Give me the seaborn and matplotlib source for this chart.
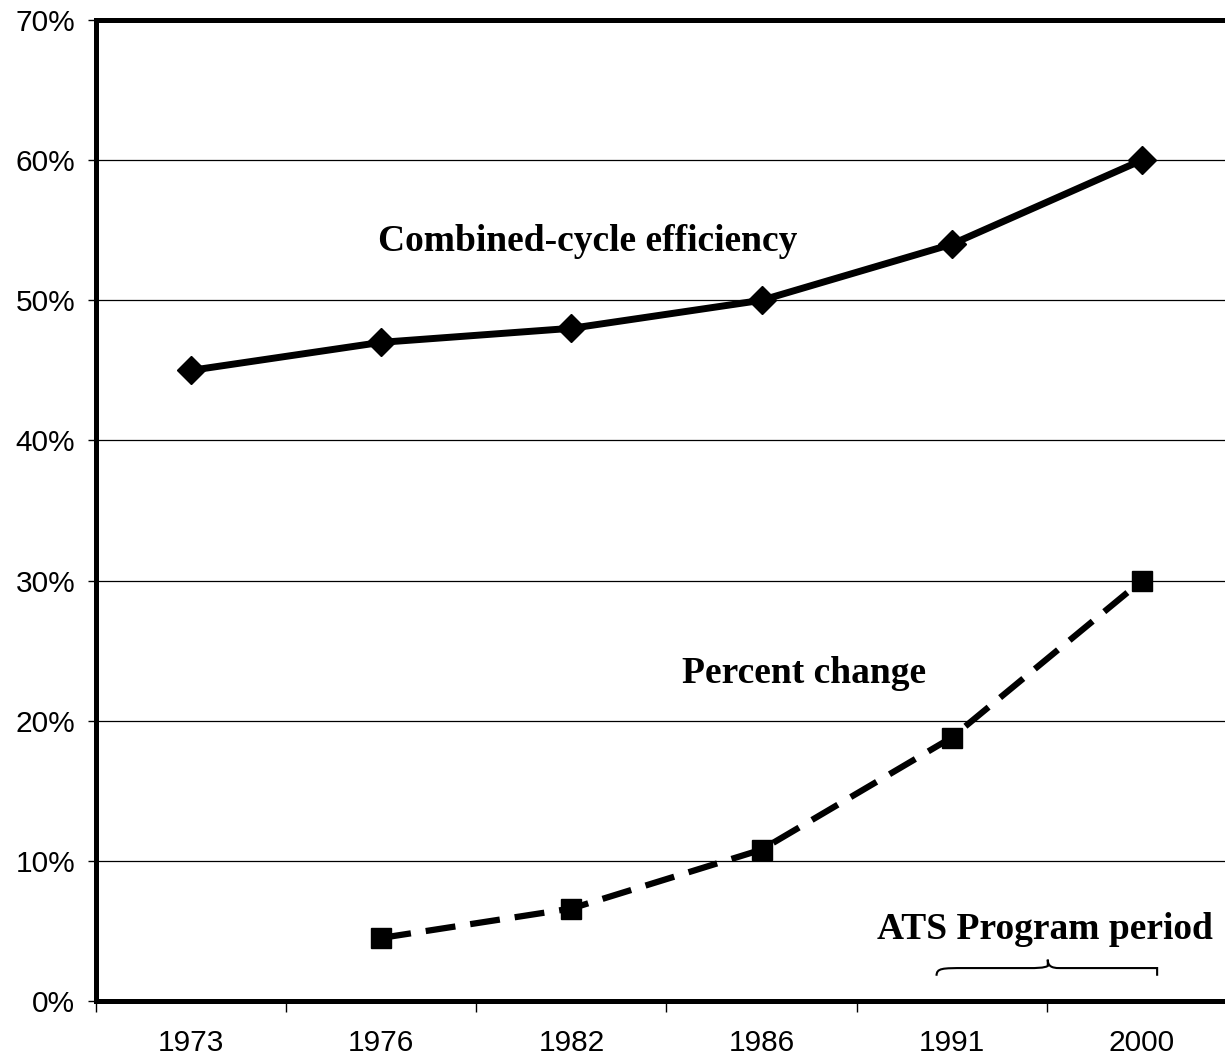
import matplotlib
matplotlib.use("Agg")
import matplotlib.pyplot as plt
from matplotlib.path import Path
from matplotlib.patches import PathPatch
import seaborn as sns
import pandas as pd

years = ["1973", "1976", "1982", "1986", "1991", "2000"]
efficiency = [45, 47, 48, 50, 54, 60]
change_years = ["1976", "1982", "1986", "1991", "2000"]
percent_change = [4.5, 6.6, 10.8, 18.8, 30.0]
y_ticks = [0, 10, 20, 30, 40, 50, 60, 70]

sns.set_theme(style="white")
plt.rcParams['font.family'] = ['Liberation Sans', 'DejaVu Sans']
plt.rcParams['text.color'] = 'black'

fig = plt.figure(figsize=(12.25, 10.61), dpi=100)
ax = fig.add_axes([96/1225, 60/1061, 1141/1225, 981/1061])

df_eff = pd.DataFrame({"x": [years.index(y) for y in years], "v": efficiency})
df_chg = pd.DataFrame({"x": [years.index(y) for y in change_years], "v": percent_change})

sns.lineplot(data=df_eff, x="x", y="v", ax=ax, color="black", lw=5,
             marker="D", markersize=14, markeredgewidth=1, markeredgecolor="black", zorder=5)
sns.lineplot(data=df_chg, x="x", y="v", ax=ax, color="black", lw=4.5,
             marker="s", markersize=15, markeredgewidth=1, markeredgecolor="black",
             dashes=False, zorder=5)
ax.lines[-1].set_dashes((4.8, 2.4))

ax.set_xlim(-0.5, 5.5)
ax.set_ylim(0, 70)
ax.set_yticks(y_ticks)
ax.set_yticklabels([f"{t}%" for t in y_ticks])
ax.set_xticks(range(len(years)))
ax.set_xticklabels(years)
ax.set_xticks([i - 0.5 for i in range(len(years) + 1)], minor=True)
ax.tick_params(axis="x", which="major", length=0, pad=20, labelsize=21.5, colors="black")
ax.tick_params(axis="x", which="minor", length=8, width=1, direction="out", color="black", bottom=True)
ax.tick_params(axis="y", length=6, width=1, direction="out", pad=9, labelsize=21.5, colors="black", left=True)
ax.set_xlabel("")
ax.set_ylabel("")

for y in y_ticks[1:-1]:
    ax.axhline(y, color="black", lw=0.9, zorder=1)

for side in ["left", "bottom", "top"]:
    ax.spines[side].set_visible(True)
    ax.spines[side].set_color("black")
    ax.spines[side].set_linewidth(3.6)
ax.spines["right"].set_visible(False)

serif = ['Liberation Serif', 'DejaVu Serif']
ax.text(2.084, 54.2, "Combined-cycle efficiency", ha="center", va="center",
        fontsize=27, fontweight="bold", family=serif, color="black")
ax.text(3.226, 23.4, "Percent change", ha="center", va="center",
        fontsize=27, fontweight="bold", family=serif, color="black")
ax.text(4.49, 5.1, "ATS Program period", ha="center", va="center",
        fontsize=27, fontweight="bold", family=serif, color="black")

# curly brace
xl, xr, xm = 3.92, 5.08, 4.505
yb, yc, yt = 1.8, 2.35, 2.95
verts = [(xl, yb), (xl, yc), (xl + 0.03, yc), (xl + 0.15, yc),
         (xm - 0.1, yc), (xm - 0.06, yc), (xm - 0.02, yc),
         (xm, yc + 0.15), (xm, yt), (xm, yt),
         (xm, yc + 0.15), (xm + 0.02, yc), (xm + 0.06, yc),
         (xm + 0.1, yc), (xr - 0.15, yc), (xr - 0.03, yc),
         (xr, yc), (xr, yb)]
codes = [Path.MOVETO, Path.CURVE4, Path.CURVE4, Path.CURVE4,
         Path.LINETO, Path.CURVE4, Path.CURVE4, Path.CURVE4,
         Path.LINETO, Path.MOVETO,
         Path.CURVE4, Path.CURVE4, Path.CURVE4,
         Path.LINETO, Path.CURVE4, Path.CURVE4, Path.CURVE4,
         Path.LINETO]
ax.add_patch(PathPatch(Path(verts, codes), fill=False, lw=1.5, color="black", clip_on=False))

fig.savefig("out.png", dpi=100)
